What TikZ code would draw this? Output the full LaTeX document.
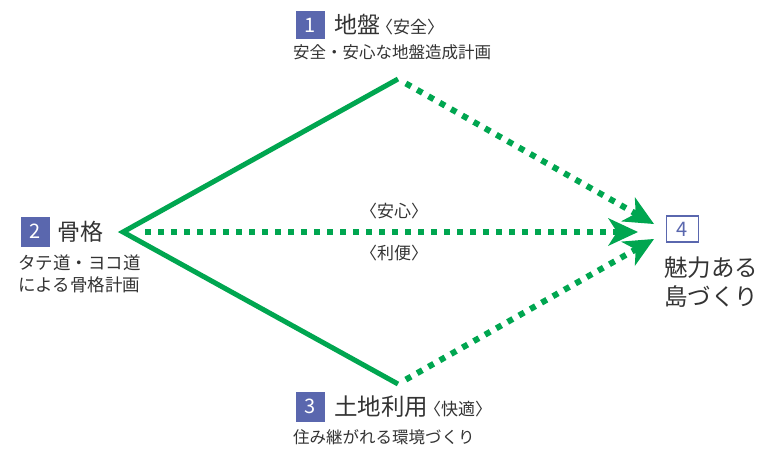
\documentclass[tikz,border=0pt]{standalone}
\usepackage{fontspec}
\setmainfont{Noto Sans CJK JP}
\definecolor{gr}{HTML}{00A650}
\definecolor{bl}{HTML}{5A67AE}
\definecolor{tx}{HTML}{333333}
\newcommand{\fs}[1]{\fontsize{#1}{#1}\selectfont}
\tikzset{
  numbox/.style={fill=bl, text=white, minimum width=29pt, minimum height=28pt, inner sep=0pt, font=\fs{20}},
  ttl/.style={anchor=west, inner sep=0pt, text=tx},
  sub/.style={anchor=west, inner sep=0pt, text=tx, font=\fs{16.5}},
  solidg/.style={draw=gr, line width=5pt, line join=miter},
  dotg/.style={draw=gr, line width=6pt, dash pattern=on 6pt off 7pt},
  headg/.style={fill=gr, draw=none},
  lbl/.style={inner sep=0pt, text=tx, font=\fs{17}}
}
\begin{document}
\begin{tikzpicture}[x=1pt,y=-1pt]
\useasboundingbox (0,0) rectangle (764,448);
% points
\coordinate (L) at (123,232);
\coordinate (T) at (398,79);
\coordinate (B) at (398,384);
\coordinate (A1) at (654,224);
\coordinate (A2) at (638,232);
\coordinate (A3) at (654,239);
% solid lines
\draw[solidg] (T) -- (L) -- (B);
% dotted connectors
\draw[dotg, shorten <=9pt, shorten >=19pt] (T) -- (A1);
\draw[dotg, shorten <=22pt, shorten >=20pt] (L) -- (A2);
\draw[dotg, shorten <=9pt, shorten >=19pt] (B) -- (A3);
% arrow heads
\fill[headg] (A1) -- (621.0,221.4) -- (635.7,213.6) -- (634.8,197.0) -- cycle;
\fill[headg] (A2) -- (608,246) -- (617,232) -- (608,218) -- cycle;
\fill[headg] (A3) -- (621.0,241.6) -- (635.7,249.4) -- (634.8,266.0) -- cycle;
% node 1
\node[numbox] (b1) at (310.5,25) {1};
\node[ttl] (t1) at (334,25) {{\fs{23}地盤}\kern-4pt{\fs{17}〈安全〉}};
\node[sub] (s1) at (293,52) {安全・安心な地盤造成計画};
% node 2
\node[numbox, minimum height=30pt] (b2) at (35,231.5) {2};
\node[ttl] (t2) at (57,231.5) {\fs{23}骨格};
\node[sub, font=\fs{17.5}] (s2a) at (18,263) {タテ道・ヨコ道};
\node[sub, font=\fs{17.5}] (s2b) at (18,285) {による骨格計画};
% node 3
\node[numbox, minimum height=30pt] (b3) at (310.5,406.5) {3};
\node[ttl] (t3) at (334,406.5) {{\fs{23.5}土地利用}\kern-4pt{\fs{17}〈快適〉}};
\node[sub] (s3) at (293,437) {住み継がれる環境づくり};
% node 4
\node[draw=bl, line width=1.5pt, text=bl, minimum width=32pt, minimum height=26pt, inner sep=0pt, font=\fs{20}] (b4) at (682.5,229) {4};
\node[ttl, font=\fs{23.5}] (t4a) at (664,268) {魅力ある};
\node[ttl, font=\fs{23.5}] (t4b) at (664,297) {島づくり};
% middle labels
\node[lbl] (m1) at (394,211) {〈安心〉};
\node[lbl] (m2) at (394,253) {〈利便〉};
\end{tikzpicture}
\end{document}
